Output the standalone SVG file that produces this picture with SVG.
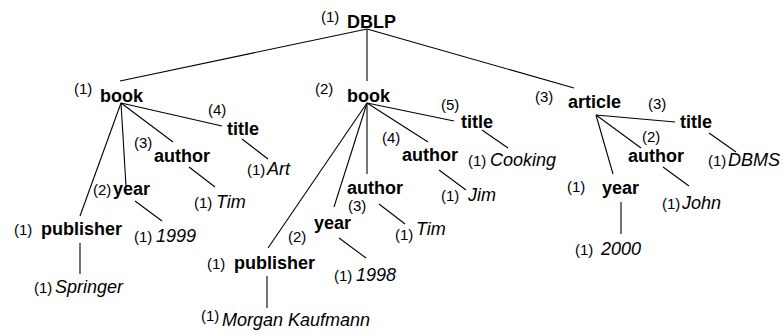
<svg xmlns="http://www.w3.org/2000/svg" width="784" height="335" viewBox="0 0 784 335">
  <style>
    text { font-family: "Liberation Sans", Arial, sans-serif; fill: #000; }
    .tag { font-size: 18px; font-weight: bold; }
    .val { font-size: 18px; font-style: italic; }
    .cnt { font-size: 15px; }
    .edge { stroke: #000; stroke-width: 1.1; fill: none; }
  </style>
  <rect width="784" height="335" fill="#fff"/>

  <!-- tree edges -->
  <g id="connectors">
    <line class="edge" x1="367" y1="29" x2="120" y2="81"/>
    <line class="edge" x1="367" y1="29" x2="367" y2="81"/>
    <line class="edge" x1="367" y1="29" x2="574" y2="88"/>

    <line class="edge" x1="121" y1="103" x2="80" y2="216"/>
    <line class="edge" x1="121" y1="103" x2="126" y2="186"/>
    <line class="edge" x1="121" y1="103" x2="173" y2="142"/>
    <line class="edge" x1="121" y1="103" x2="222" y2="126"/>
    <line class="edge" x1="242" y1="139" x2="268" y2="159"/>
    <line class="edge" x1="189" y1="167" x2="215" y2="187"/>
    <line class="edge" x1="135" y1="201" x2="162" y2="221"/>
    <line class="edge" x1="80" y1="243" x2="80" y2="274"/>

    <line class="edge" x1="367" y1="103" x2="268" y2="248"/>
    <line class="edge" x1="367" y1="103" x2="334" y2="207"/>
    <line class="edge" x1="367" y1="103" x2="367" y2="174"/>
    <line class="edge" x1="367" y1="103" x2="428" y2="142"/>
    <line class="edge" x1="367" y1="103" x2="454" y2="121"/>
    <line class="edge" x1="482" y1="130" x2="508" y2="148"/>
    <line class="edge" x1="439" y1="170" x2="466" y2="190"/>
    <line class="edge" x1="379" y1="204" x2="405" y2="224"/>
    <line class="edge" x1="339" y1="238" x2="366" y2="258"/>
    <line class="edge" x1="267" y1="276" x2="267" y2="308"/>

    <line class="edge" x1="596" y1="115" x2="675" y2="122"/>
    <line class="edge" x1="596" y1="115" x2="641" y2="148"/>
    <line class="edge" x1="596" y1="115" x2="613" y2="174"/>
    <line class="edge" x1="709" y1="133" x2="736" y2="152"/>
    <line class="edge" x1="663" y1="167" x2="689" y2="186"/>
    <line class="edge" x1="621" y1="202" x2="621" y2="234"/>
  </g>

  <!-- root -->
  <g id="dblp">
    <text class="cnt" x="321" y="22">(1)</text>
    <text class="tag" x="347" y="28">DBLP</text>
  </g>

  <!-- first book -->
  <g id="book1">
    <text class="cnt" x="74" y="94">(1)</text>
    <text class="tag" x="100" y="102">book</text>
  </g>
  <g id="book1-title">
    <text class="cnt" x="208" y="115">(4)</text>
    <text class="tag" x="227" y="135">title</text>
  </g>
  <g id="book1-title-art">
    <text class="cnt" x="247" y="175">(1)</text>
    <text class="val" x="267" y="175">Art</text>
  </g>
  <g id="book1-author">
    <text class="cnt" x="134" y="148">(3)</text>
    <text class="tag" x="154" y="162">author</text>
  </g>
  <g id="book1-author-tim">
    <text class="cnt" x="194" y="208">(1)</text>
    <text class="val" x="216" y="208">Tim</text>
  </g>
  <g id="book1-year">
    <text class="cnt" x="93" y="195">(2)</text>
    <text class="tag" x="113" y="195">year</text>
  </g>
  <g id="book1-year-1999">
    <text class="cnt" x="134" y="242">(1)</text>
    <text class="val" x="156" y="242">1999</text>
  </g>
  <g id="book1-publisher">
    <text class="cnt" x="14" y="235">(1)</text>
    <text class="tag" x="41" y="235">publisher</text>
  </g>
  <g id="book1-publisher-springer">
    <text class="cnt" x="34" y="293">(1)</text>
    <text class="val" x="55" y="293">Springer</text>
  </g>

  <!-- second book -->
  <g id="book2">
    <text class="cnt" x="315" y="94">(2)</text>
    <text class="tag" x="347" y="102">book</text>
  </g>
  <g id="book2-title">
    <text class="cnt" x="441" y="110">(5)</text>
    <text class="tag" x="461" y="128">title</text>
  </g>
  <g id="book2-title-cooking">
    <text class="cnt" x="468" y="166">(1)</text>
    <text class="val" x="490" y="166">Cooking</text>
  </g>
  <g id="book2-author-jim">
    <text class="cnt" x="382" y="143">(4)</text>
    <text class="tag" x="402" y="161">author</text>
  </g>
  <g id="book2-author-jim-value">
    <text class="cnt" x="441" y="201">(1)</text>
    <text class="val" x="468" y="201">Jim</text>
  </g>
  <g id="book2-author-tim">
    <text class="tag" x="347" y="194">author</text>
    <text class="cnt" x="348" y="210.5">(3)</text>
  </g>
  <g id="book2-author-tim-value">
    <text class="cnt" x="395" y="240">(1)</text>
    <text class="val" x="416" y="235">Tim</text>
  </g>
  <g id="book2-year">
    <text class="tag" x="314" y="229">year</text>
    <text class="cnt" x="288" y="242">(2)</text>
  </g>
  <g id="book2-year-1998">
    <text class="cnt" x="334" y="281">(1)</text>
    <text class="val" x="356" y="281">1998</text>
  </g>
  <g id="book2-publisher">
    <text class="cnt" x="207" y="269">(1)</text>
    <text class="tag" x="234" y="269">publisher</text>
  </g>
  <g id="book2-publisher-mk">
    <text class="cnt" x="201" y="321">(1)</text>
    <text class="val" x="222" y="326">Morgan Kaufmann</text>
  </g>

  <!-- article -->
  <g id="article">
    <text class="cnt" x="535" y="102">(3)</text>
    <text class="tag" x="568" y="108">article</text>
  </g>
  <g id="article-title">
    <text class="cnt" x="648" y="109">(3)</text>
    <text class="tag" x="680" y="128">title</text>
  </g>
  <g id="article-title-dbms">
    <text class="cnt" x="708" y="166">(1)</text>
    <text class="val" x="728" y="166">DBMS</text>
  </g>
  <g id="article-author">
    <text class="cnt" x="642" y="142">(2)</text>
    <text class="tag" x="628" y="162">author</text>
  </g>
  <g id="article-author-john">
    <text class="cnt" x="662" y="209">(1)</text>
    <text class="val" x="682" y="209">John</text>
  </g>
  <g id="article-year">
    <text class="cnt" x="567" y="192">(1)</text>
    <text class="tag" x="602" y="194">year</text>
  </g>
  <g id="article-year-2000">
    <text class="cnt" x="575" y="255">(1)</text>
    <text class="val" x="601" y="255">2000</text>
  </g>
</svg>
